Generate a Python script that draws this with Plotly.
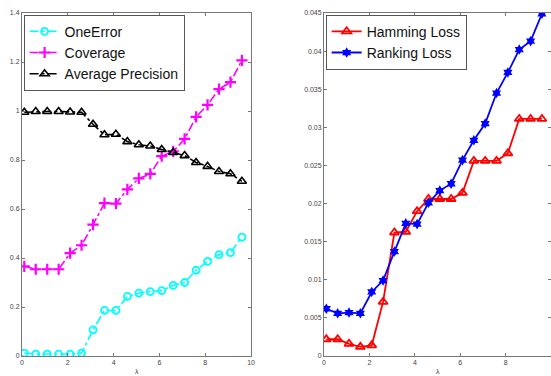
import plotly.graph_objects as go

lam = [0.1, 0.6, 1.1, 1.6, 2.1, 2.6, 3.1, 3.6, 4.1, 4.6,
       5.1, 5.6, 6.1, 6.6, 7.1, 7.6, 8.1, 8.6, 9.1, 9.6]

one_error = [0.012, 0.008, 0.008, 0.008, 0.008, 0.012, 0.107, 0.186, 0.186, 0.243,
             0.257, 0.263, 0.267, 0.288, 0.300, 0.350, 0.386, 0.414, 0.422, 0.485]
coverage = [0.366, 0.354, 0.354, 0.354, 0.420, 0.452, 0.536, 0.624, 0.622, 0.680,
            0.725, 0.743, 0.816, 0.835, 0.886, 0.976, 1.025, 1.089, 1.118, 1.207]
avg_precision = [0.995, 0.998, 0.998, 0.998, 0.996, 0.995, 0.946, 0.903, 0.905, 0.875,
                 0.862, 0.857, 0.843, 0.831, 0.818, 0.790, 0.774, 0.753, 0.744, 0.713]

hamming = [0.0022, 0.0022, 0.0016, 0.0012, 0.0014, 0.0071, 0.0162, 0.0163, 0.0190, 0.0206,
           0.0206, 0.0206, 0.0214, 0.0256, 0.0256, 0.0256, 0.0266, 0.0311, 0.0311, 0.0311]
ranking = [0.0062, 0.0056, 0.0057, 0.0056, 0.0084, 0.0099, 0.0137, 0.0174, 0.0173, 0.0201,
           0.0217, 0.0226, 0.0257, 0.0283, 0.0305, 0.0345, 0.0372, 0.0402, 0.0413, 0.0449]

left_yticks = [0, 0.2, 0.4, 0.6, 0.8, 1, 1.2, 1.4]
left_yticklabels = ["0", "0.2", "0.4", "0.6", "0.8", "1", "1.2", "1.4"]
right_yticks = [0, 0.005, 0.01, 0.015, 0.02, 0.025, 0.03, 0.035, 0.04, 0.045]
right_yticklabels = ["0", "0.005", "0.01", "0.015", "0.02", "0.025", "0.03", "0.035", "0.04", "0.045"]
xticks = [0, 2, 4, 6, 8, 10]
x_title = "λ"

fig = go.Figure()

fig.add_trace(go.Scatter(x=lam, y=one_error, name="OneError", mode="lines+markers",
                         line=dict(color="#00ffff", width=1.6, dash="dashdot"),
                         marker=dict(symbol="circle-open", size=7, color="#00ffff", line=dict(width=1.8)),
                         xaxis="x", yaxis="y", legend="legend"))
fig.add_trace(go.Scatter(x=lam, y=coverage, name="Coverage", mode="lines+markers",
                         line=dict(color="#ff00ff", width=1.6, dash="dashdot"),
                         marker=dict(symbol="cross-thin", size=8, color="#ff00ff", line=dict(width=2.2, color="#ff00ff")),
                         xaxis="x", yaxis="y", legend="legend"))
fig.add_trace(go.Scatter(x=lam, y=avg_precision, name="Average Precision", mode="lines+markers",
                         line=dict(color="#000000", width=1.6, dash="dashdot"),
                         marker=dict(symbol="triangle-up-open", size=8, color="#000000", line=dict(width=1.6)),
                         xaxis="x", yaxis="y", legend="legend"))

fig.add_trace(go.Scatter(x=lam, y=hamming, name="Hamming Loss", mode="lines+markers",
                         line=dict(color="#ff0000", width=1.8),
                         marker=dict(symbol="triangle-up-open", size=8, color="#ff0000", line=dict(width=1.8)),
                         xaxis="x2", yaxis="y2", legend="legend2"))
fig.add_trace(go.Scatter(x=lam, y=ranking, name="Ranking Loss", mode="lines+markers",
                         line=dict(color="#0000ff", width=1.8),
                         marker=dict(symbol="hexagram", size=8, color="#0000ff"),
                         xaxis="x2", yaxis="y2", legend="legend2"))

axis_common = dict(showline=True, linecolor="#777777", linewidth=1, mirror="ticks",
                   ticks="inside", ticklen=3, tickcolor="#777777", showgrid=False, zeroline=False,
                   automargin=False,
                   tickfont=dict(size=7, color="#444444", family="Liberation Sans"))

fig.update_layout(
    width=551, height=376,
    margin=dict(l=22, r=0, t=13, b=20, autoexpand=False),
    paper_bgcolor="white", plot_bgcolor="white",
    font=dict(family="Liberation Sans", color="#222222"),
    xaxis=dict(domain=[0, 0.433], range=[0, 10], tickvals=xticks, ticktext=[str(t) for t in xticks],
               **axis_common),
    yaxis=dict(range=[0, 1.4], tickvals=left_yticks, ticktext=left_yticklabels, **axis_common),
    xaxis2=dict(domain=[0.571, 1.0], range=[0, 10], anchor="y2", tickvals=xticks,
                ticktext=[str(t) for t in xticks], **axis_common),
    yaxis2=dict(range=[0, 0.045], anchor="x2", tickvals=right_yticks, ticktext=right_yticklabels,
                **axis_common),
    legend=dict(x=0.003, y=0.995, xref="paper", yref="paper", xanchor="left", yanchor="top",
                bgcolor="white", bordercolor="#555555", borderwidth=1,
                font=dict(size=14, color="#111111"), tracegroupgap=0, itemwidth=30),
    legend2=dict(x=0.574, y=0.995, xref="paper", yref="paper", xanchor="left", yanchor="top",
                 bgcolor="white", bordercolor="#555555", borderwidth=1,
                 font=dict(size=14, color="#111111"), tracegroupgap=0, itemwidth=30),
    showlegend=True,
    annotations=[
        dict(text=x_title, x=5, y=0, xref="x", yref="paper", yshift=-15, showarrow=False,
             yanchor="middle", font=dict(size=7, color="#333333")),
        dict(text=x_title, x=5, y=0, xref="x2", yref="paper", yshift=-15, showarrow=False,
             yanchor="middle", font=dict(size=7, color="#333333")),
    ],
)

fig.write_html("out.html", config={"displayModeBar": False},
               post_script="document.body.style.margin='0';document.body.style.overflow='hidden';")
